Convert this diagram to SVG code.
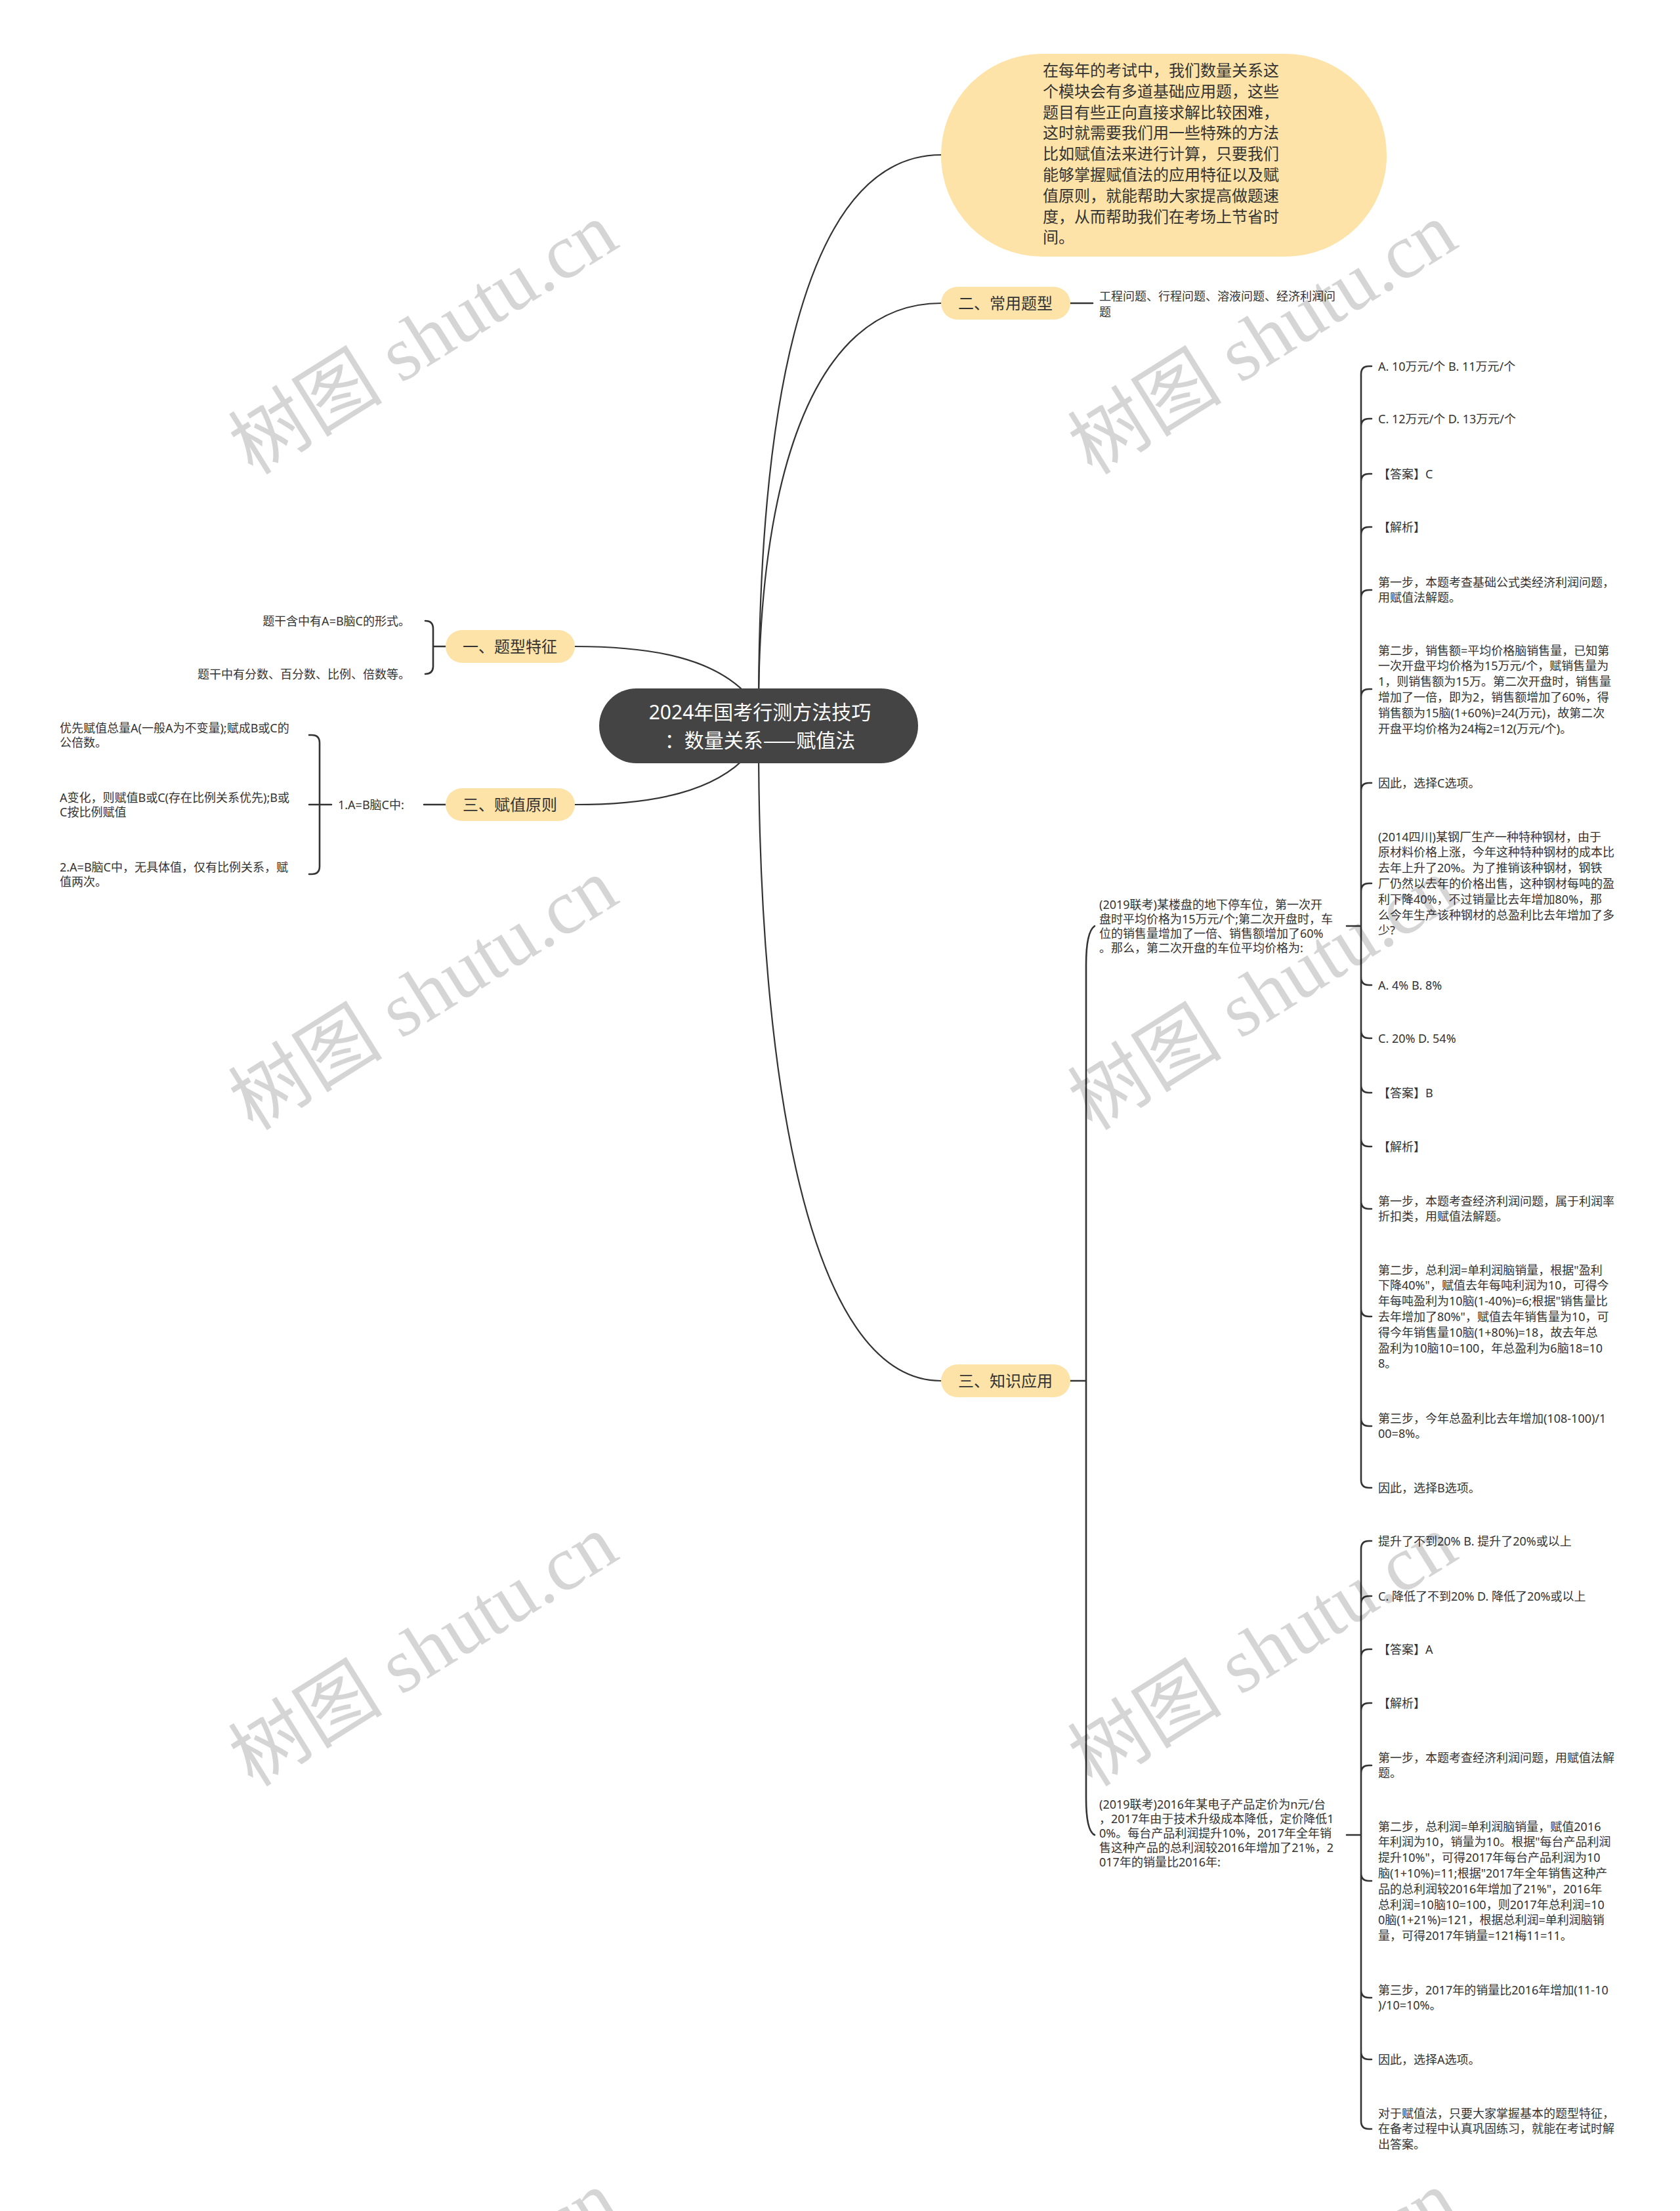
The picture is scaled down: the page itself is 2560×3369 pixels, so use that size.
<svg xmlns="http://www.w3.org/2000/svg" width="2560" height="3369" viewBox="0 0 2560 3369">
<style>
.t{font-family:"Noto Sans","Noto Sans CJK SC",sans-serif;font-size:18px;fill:#333}
.b{font-family:"Noto Sans","Noto Sans CJK SC",sans-serif;font-size:24px;fill:#333}
.r{font-family:"Noto Sans","Noto Sans CJK SC",sans-serif;font-size:30px;fill:#fff}
.d{font-family:"Noto Sans CJK SC",sans-serif}
.c{fill:none;stroke:#333;stroke-width:2.2;stroke-linecap:round}
.k{fill:none;stroke:#333;stroke-width:2.6;stroke-linecap:round}
.nf{fill:#fde3a7}
.wm{font-family:"Liberation Serif","Noto Sans CJK SC",serif;font-size:118px;fill:#000;opacity:0.16}
</style>
<rect width="2560" height="3369" fill="#fff"/>
<g id="connectors">
<path class="c" d="M1156,1080 C1156,600 1230,236 1434,236"/>
<path class="c" d="M1156,1080 C1156,750 1230,462 1434,462"/>
<path class="c" d="M1156,1130 C1156,1632 1230,2104 1434,2104"/>
<path class="c" d="M1140,1060 C1090,1005 1000,985 876,985"/>
<path class="c" d="M1140,1150 C1090,1205 1000,1226 876,1226"/>
<path class="k" d="M1631,462 L1665,462"/>
<path class="k" d="M679,985 L660,985 M660,985 L660,958 Q660,946 648,946 M660,985 L660,1015 Q660,1027 648,1027"/>
<path class="k" d="M679,1226 L646,1226 M505,1226 L487,1226 M487,1226 L487,1132 Q487,1120 475,1120 L471,1120 M487,1226 L471,1226 M487,1226 L487,1320 Q487,1332 475,1332 L471,1332"/>
<path class="k" d="M1631,2104 L1655,2104 M1655,2104 L1655,1470 Q1655,1420 1668,1411 M1655,2104 L1655,2740 Q1655,2790 1668,2796"/>
<path class="k" d="M2052,1411 L2074,1411
M2074,1411 L2074,570 Q2074,558 2086,558 L2090,558
M2074,1411 L2074,650 Q2074,638 2086,638 L2090,638
M2074,1411 L2074,734 Q2074,722 2086,722 L2090,722
M2074,1411 L2074,815 Q2074,803 2086,803 L2090,803
M2074,1411 L2074,911 Q2074,899 2086,899 L2090,899
M2074,1411 L2074,1062 Q2074,1050 2086,1050 L2090,1050
M2074,1411 L2074,1205 Q2074,1193 2086,1193 L2090,1193
M2074,1411 L2074,1358 Q2074,1346 2086,1346 L2090,1346
M2074,1411 L2074,1489 Q2074,1501 2086,1501 L2090,1501
M2074,1411 L2074,1570 Q2074,1582 2086,1582 L2090,1582
M2074,1411 L2074,1653 Q2074,1665 2086,1665 L2090,1665
M2074,1411 L2074,1735 Q2074,1747 2086,1747 L2090,1747
M2074,1411 L2074,1830 Q2074,1842 2086,1842 L2090,1842
M2074,1411 L2074,1994 Q2074,2006 2086,2006 L2090,2006
M2074,1411 L2074,2161 Q2074,2173 2086,2173 L2090,2173
M2074,1411 L2074,2255 Q2074,2267 2086,2267 L2090,2267"/>
<path class="k" d="M2052,2796 L2074,2796
M2074,2796 L2074,2360 Q2074,2348 2086,2348 L2090,2348
M2074,2796 L2074,2444 Q2074,2432 2086,2432 L2090,2432
M2074,2796 L2074,2525 Q2074,2513 2086,2513 L2090,2513
M2074,2796 L2074,2607 Q2074,2595 2086,2595 L2090,2595
M2074,2796 L2074,2702 Q2074,2690 2086,2690 L2090,2690
M2074,2796 L2074,2854 Q2074,2866 2086,2866 L2090,2866
M2074,2796 L2074,3032 Q2074,3044 2086,3044 L2090,3044
M2074,2796 L2074,3126 Q2074,3138 2086,3138 L2090,3138
M2074,2796 L2074,3232 Q2074,3244 2086,3244 L2090,3244"/>
</g>
<g id="root">
<rect x="913" y="1049" width="486" height="114" rx="57" fill="#444"/>
<text class="r" text-anchor="middle" x="1158" y="1096">2024年国考行测方法技巧</text>
<text class="r d" text-anchor="middle" x="1158" y="1139">：数量关系——赋值法</text>
</g>
<g id="intro">
<rect class="nf" x="1434" y="82" width="679" height="309" rx="154"/>
<text class="b" x="1589" y="116">在每年的考试中，我们数量关系这<tspan x="1589" dy="31.8">个模块会有多道基础应用题，这些</tspan><tspan x="1589" dy="31.8">题目有些正向直接求解比较困难，</tspan><tspan x="1589" dy="31.8">这时就需要我们用一些特殊的方法</tspan><tspan x="1589" dy="31.8">比如赋值法来进行计算，只要我们</tspan><tspan x="1589" dy="31.8">能够掌握赋值法的应用特征以及赋</tspan><tspan x="1589" dy="31.8">值原则，就能帮助大家提高做题速</tspan><tspan x="1589" dy="31.8">度，从而帮助我们在考场上节省时</tspan><tspan x="1589" dy="31.8">间。</tspan></text>
</g>
<g id="n-types">
<rect class="nf" x="1434" y="437" width="197" height="50" rx="25"/>
<text class="b" text-anchor="middle" x="1532" y="470.5">二、常用题型</text>
</g>
<g id="n-types-c">
<text class="t" x="1675" y="457.5">工程问题、行程问题、溶液问题、经济利润问<tspan x="1675" dy="24">题</tspan></text>
</g>
<g id="n-feature">
<rect class="nf" x="679" y="960" width="197" height="50" rx="25"/>
<text class="b" text-anchor="middle" x="777" y="993.5">一、题型特征</text>
</g>
<g id="n-feature-c1"><text class="t" text-anchor="end" x="625" y="952.5">题干含中有A=B脑C的形式。</text></g>
<g id="n-feature-c2"><text class="t" text-anchor="end" x="625" y="1033.5">题干中有分数、百分数、比例、倍数等。</text></g>
<g id="n-principle">
<rect class="nf" x="679" y="1201" width="197" height="50" rx="25"/>
<text class="b" text-anchor="middle" x="777" y="1234.5">三、赋值原则</text>
</g>
<g id="n-principle-1"><text class="t" x="515" y="1232.5">1.A=B脑C中:</text></g>
<g id="n-principle-1a"><text class="t" x="91" y="1115.5">优先赋值总量A(一般A为不变量);赋成B或C的<tspan x="91" dy="22.6">公倍数。</tspan></text></g>
<g id="n-principle-1b"><text class="t" x="91" y="1221.5">A变化，则赋值B或C(存在比例关系优先);B或<tspan x="91" dy="22.6">C按比例赋值</tspan></text></g>
<g id="n-principle-1c"><text class="t" x="91" y="1327.5">2.A=B脑C中，无具体值，仅有比例关系，赋<tspan x="91" dy="22.6">值两次。</tspan></text></g>
<g id="n-apply">
<rect class="nf" x="1434" y="2079" width="197" height="50" rx="25"/>
<text class="b" text-anchor="middle" x="1532" y="2112.5">三、知识应用</text>
</g>
<g id="q1"><text class="t" x="1675" y="1384.5">(2019联考)某楼盘的地下停车位，第一次开<tspan x="1675" dy="22">盘时平均价格为15万元/个;第二次开盘时，车</tspan><tspan x="1675" dy="22">位的销售量增加了一倍、销售额增加了60%</tspan><tspan x="1675" dy="22">。那么，第二次开盘的车位平均价格为:</tspan></text></g>
<g id="q1-c1"><text class="t" x="2100" y="564.5">A. 10万元/个 B. 11万元/个</text></g>
<g id="q1-c2"><text class="t" x="2100" y="644.5">C. 12万元/个 D. 13万元/个</text></g>
<g id="q1-c3"><text class="t" x="2100" y="728.5">【答案】C</text></g>
<g id="q1-c4"><text class="t" x="2100" y="809.5">【解析】</text></g>
<g id="q1-c5"><text class="t" x="2100" y="893.5">第一步，本题考查基础公式类经济利润问题，<tspan x="2100" dy="23.8">用赋值法解题。</tspan></text></g>
<g id="q1-c6"><text class="t" x="2100" y="997.5">第二步，销售额=平均价格脑销售量，已知第<tspan x="2100" dy="23.8">一次开盘平均价格为15万元/个，赋销售量为</tspan><tspan x="2100" dy="23.8">1，则销售额为15万。第二次开盘时，销售量</tspan><tspan x="2100" dy="23.8">增加了一倍，即为2，销售额增加了60%，得</tspan><tspan x="2100" dy="23.8">销售额为15脑(1+60%)=24(万元)，故第二次</tspan><tspan x="2100" dy="23.8">开盘平均价格为24梅2=12(万元/个)。</tspan></text></g>
<g id="q1-c7"><text class="t" x="2100" y="1199.5">因此，选择C选项。</text></g>
<g id="q1-c8"><text class="t" x="2100" y="1281.5">(2014四川)某钢厂生产一种特种钢材，由于<tspan x="2100" dy="23.8">原材料价格上涨，今年这种特种钢材的成本比</tspan><tspan x="2100" dy="23.8">去年上升了20%。为了推销该种钢材，钢铁</tspan><tspan x="2100" dy="23.8">厂仍然以去年的价格出售，这种钢材每吨的盈</tspan><tspan x="2100" dy="23.8">利下降40%，不过销量比去年增加80%，那</tspan><tspan x="2100" dy="23.8">么今年生产该种钢材的总盈利比去年增加了多</tspan><tspan x="2100" dy="23.8">少?</tspan></text></g>
<g id="q1-c9"><text class="t" x="2100" y="1507.5">A. 4% B. 8%</text></g>
<g id="q1-c10"><text class="t" x="2100" y="1588.5">C. 20% D. 54%</text></g>
<g id="q1-c11"><text class="t" x="2100" y="1671.5">【答案】B</text></g>
<g id="q1-c12"><text class="t" x="2100" y="1753.5">【解析】</text></g>
<g id="q1-c13"><text class="t" x="2100" y="1836.5">第一步，本题考查经济利润问题，属于利润率<tspan x="2100" dy="23.8">折扣类，用赋值法解题。</tspan></text></g>
<g id="q1-c14"><text class="t" x="2100" y="1941.5">第二步，总利润=单利润脑销量，根据"盈利<tspan x="2100" dy="23.8">下降40%"，赋值去年每吨利润为10，可得今</tspan><tspan x="2100" dy="23.8">年每吨盈利为10脑(1-40%)=6;根据"销售量比</tspan><tspan x="2100" dy="23.8">去年增加了80%"，赋值去年销售量为10，可</tspan><tspan x="2100" dy="23.8">得今年销售量10脑(1+80%)=18，故去年总</tspan><tspan x="2100" dy="23.8">盈利为10脑10=100，年总盈利为6脑18=10</tspan><tspan x="2100" dy="23.8">8。</tspan></text></g>
<g id="q1-c15"><text class="t" x="2100" y="2167.5">第三步，今年总盈利比去年增加(108-100)/1<tspan x="2100" dy="23.8">00=8%。</tspan></text></g>
<g id="q1-c16"><text class="t" x="2100" y="2273.5">因此，选择B选项。</text></g>
<g id="q2"><text class="t" x="1675" y="2755.5">(2019联考)2016年某电子产品定价为n元/台<tspan x="1675" dy="22">，2017年由于技术升级成本降低，定价降低1</tspan><tspan x="1675" dy="22">0%。每台产品利润提升10%，2017年全年销</tspan><tspan x="1675" dy="22">售这种产品的总利润较2016年增加了21%，2</tspan><tspan x="1675" dy="22">017年的销量比2016年:</tspan></text></g>
<g id="q2-c1"><text class="t" x="2100" y="2354.5">提升了不到20% B. 提升了20%或以上</text></g>
<g id="q2-c2"><text class="t" x="2100" y="2438.5">C. 降低了不到20% D. 降低了20%或以上</text></g>
<g id="q2-c3"><text class="t" x="2100" y="2519.5">【答案】A</text></g>
<g id="q2-c4"><text class="t" x="2100" y="2601.5">【解析】</text></g>
<g id="q2-c5"><text class="t" x="2100" y="2684.5">第一步，本题考查经济利润问题，用赋值法解<tspan x="2100" dy="23.8">题。</tspan></text></g>
<g id="q2-c6"><text class="t" x="2100" y="2789.5">第二步，总利润=单利润脑销量，赋值2016<tspan x="2100" dy="23.8">年利润为10，销量为10。根据"每台产品利润</tspan><tspan x="2100" dy="23.8">提升10%"，可得2017年每台产品利润为10</tspan><tspan x="2100" dy="23.8">脑(1+10%)=11;根据"2017年全年销售这种产</tspan><tspan x="2100" dy="23.8">品的总利润较2016年增加了21%"，2016年</tspan><tspan x="2100" dy="23.8">总利润=10脑10=100，则2017年总利润=10</tspan><tspan x="2100" dy="23.8">0脑(1+21%)=121，根据总利润=单利润脑销</tspan><tspan x="2100" dy="23.8">量，可得2017年销量=121梅11=11。</tspan></text></g>
<g id="q2-c7"><text class="t" x="2100" y="3038.5">第三步，2017年的销量比2016年增加(11-10<tspan x="2100" dy="23.8">)/10=10%。</tspan></text></g>
<g id="q2-c8"><text class="t" x="2100" y="3144.5">因此，选择A选项。</text></g>
<g id="q2-c9"><text class="t" x="2100" y="3226.5">对于赋值法，只要大家掌握基本的题型特征，<tspan x="2100" dy="23.8">在备考过程中认真巩固练习，就能在考试时解</tspan><tspan x="2100" dy="23.8">出答案。</tspan></text></g>
<g id="watermark">
<text class="wm" text-anchor="middle" transform="translate(645,516) rotate(-32)" y="40">树图 shutu.cn</text>
<text class="wm" text-anchor="middle" transform="translate(1924,516) rotate(-32)" y="40">树图 shutu.cn</text>
<text class="wm" text-anchor="middle" transform="translate(645,1515) rotate(-32)" y="40">树图 shutu.cn</text>
<text class="wm" text-anchor="middle" transform="translate(1924,1515) rotate(-32)" y="40">树图 shutu.cn</text>
<text class="wm" text-anchor="middle" transform="translate(645,2515) rotate(-32)" y="40">树图 shutu.cn</text>
<text class="wm" text-anchor="middle" transform="translate(1924,2515) rotate(-32)" y="40">树图 shutu.cn</text>
<text class="wm" text-anchor="middle" transform="translate(645,3515) rotate(-32)" y="40">树图 shutu.cn</text>
<text class="wm" text-anchor="middle" transform="translate(1924,3515) rotate(-32)" y="40">树图 shutu.cn</text>
</g>
</svg>
